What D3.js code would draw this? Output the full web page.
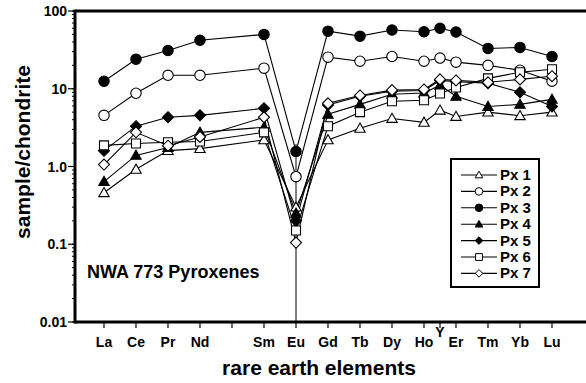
<!DOCTYPE html>
<html>
<head>
<meta charset="utf-8">
<script src="https://cdn.jsdelivr.net/npm/d3@7"></script>
<style>
  body { margin: 0; background: #fff; }
  svg { display: block; font-family: "Liberation Sans", Arial, sans-serif; font-weight: bold; }
  .line { fill: none; stroke: #000; stroke-width: 1.1; }
</style>
</head>
<body>
<script>
// axis categories (order along the x axis), Y sits between Ho and Er
var tickElements = ["La","Ce","Pr","Nd","Pm","Sm","Eu","Gd","Tb","Dy","Ho","Y","Er","Tm","Yb","Lu"];
var tickOrder    = [1, 2, 3, 4, 5, 6, 7, 8, 9, 10, 11, 11.5, 12, 13, 14, 15];
var tickShown    = ["La","Ce","Pr","Nd","","Sm","Eu","Gd","Tb","Dy","Ho","Y","Er","Tm","Yb","Lu"];

// elements that carry a value in each series
var plotted = ["La","Ce","Pr","Nd","Sm","Eu","Gd","Tb","Dy","Ho","Y","Er","Tm","Yb","Lu"];

var px1 = [0.46, 0.92, 1.6, 1.7, 2.2, 0.30, 2.2, 3.1, 4.15, 3.7, 5.3, 4.4, 5.0, 4.5, 5.0];
var px2 = [4.55, 8.75, 14.9, 14.9, 18.4, 0.74, 25.5, 22.6, 26, 22.6, 24.8, 22, 20, 17.3, 12.5];
var px3 = [12.5, 24, 31, 42, 50, 1.56, 55, 47.5, 57, 54, 60, 53.6, 33, 34, 26];
var px4 = [0.64, 1.39, 1.75, 2.75, 3.2, 0.25, 4.7, 6.3, 8.5, 8.8, 11.1, 8.0, 5.9, 6.3, 7.3];
var px5 = [1.6, 3.3, 4.3, 4.55, 5.6, 0.2, 6.2, 8.0, 9.3, 9.5, 12.8, 12.3, 11.8, 9.0, 5.9];
var px6 = [1.87, 1.98, 2.05, 2.1, 2.75, 0.15, 3.3, 5.0, 6.9, 7.1, 8.7, 10.4, 13.6, 16.3, 17.8];
var px7 = [1.06, 2.75, 1.85, 2.4, 4.3, 0.105, 6.5, 8.2, 9.6, 9.8, 13.2, 12.8, 12.1, 13.2, 14.5];

var seriesNames = ["Px 1","Px 2","Px 3","Px 4","Px 5","Px 6","Px 7"];
var seriesValues = [px1, px2, px3, px4, px5, px6, px7];

// vertical range bar at Eu
var euBar = {el: "Eu", lo: 0.01, hi: 1.95};

var yTickValues = [100, 10, 1, 0.1, 0.01];
var yTickLabels = ["100", "10", "1.0", "0.1", "0.01"];

var width = 586, height = 383;
var plotLeft = 75, plotRight = 586, plotTop = 11, plotBottom = 322;

var svg = d3.select("body").append("svg")
    .attr("width", width)
    .attr("height", height);

var xScale = d3.scaleLinear().domain([1, 15]).range([104, 552]);
var yScale = d3.scaleLog().domain([0.01, 100]).range([plotBottom, plotTop]);

function orderOf(el) { return tickOrder[tickElements.indexOf(el)]; }

// marker shapes: [kind, filled]
var shapes = [["tri", false], ["circ", false], ["circ", true], ["tri", true],
              ["dia", true], ["sq", false], ["dia", false]];

function markerPath(kind, s) {
  if (kind == "tri") {
    var h = s * 1.0;
    return "M0," + (-h) + "L" + (h * 1.0) + "," + (h * 0.75) + "L" + (-h * 1.0) + "," + (h * 0.75) + "Z";
  }
  if (kind == "dia") return "M0," + (-s) + "L" + s + ",0L0," + s + "L" + (-s) + ",0Z";
  if (kind == "sq") return "M" + (-s * 0.9) + "," + (-s * 0.9) + "h" + (s * 1.8) + "v" + (s * 1.8) + "h" + (-s * 1.8) + "Z";
  return d3.arc()({innerRadius: 0, outerRadius: s, startAngle: 0, endAngle: 2 * Math.PI});
}

// y axis: major + minor log ticks
var minorTicks = yScale.ticks(40);
svg.append("g").selectAll("line")
    .data(minorTicks)
  .enter().append("line")
    .attr("x1", plotLeft - 3).attr("x2", plotLeft)
    .attr("y1", function(d) { return yScale(d); })
    .attr("y2", function(d) { return yScale(d); })
    .attr("stroke", "#000").attr("stroke-width", 1);

svg.append("g").selectAll("line")
    .data(yTickValues)
  .enter().append("line")
    .attr("x1", plotLeft - 7).attr("x2", plotLeft)
    .attr("y1", function(d) { return yScale(d); })
    .attr("y2", function(d) { return yScale(d); })
    .attr("stroke", "#000").attr("stroke-width", 1.2);

svg.append("g").selectAll("text")
    .data(yTickValues)
  .enter().append("text")
    .attr("x", plotLeft - 8)
    .attr("y", function(d) { return yScale(d) + 5; })
    .attr("text-anchor", "end")
    .attr("font-size", 14)
    .text(function(d, i) { return yTickLabels[i]; });

// x axis ticks and labels
svg.append("g").selectAll("line")
    .data(tickOrder)
  .enter().append("line")
    .attr("x1", function(d) { return xScale(d); })
    .attr("x2", function(d) { return xScale(d); })
    .attr("y1", plotBottom).attr("y2", plotBottom + 6)
    .attr("stroke", "#000").attr("stroke-width", 1.2);

svg.append("g").selectAll("text")
    .data(tickOrder)
  .enter().append("text")
    .attr("x", function(d) { return xScale(d); })
    .attr("y", function(d, i) { return tickShown[i] == "Y" ? 337 : 347; })
    .attr("text-anchor", "middle")
    .attr("font-size", 14)
    .text(function(d, i) { return tickShown[i]; });

// frame
svg.append("line").attr("x1", plotLeft).attr("x2", plotRight).attr("y1", plotTop).attr("y2", plotTop)
    .attr("stroke", "#000").attr("stroke-width", 3);
svg.append("line").attr("x1", plotLeft).attr("x2", plotRight).attr("y1", plotBottom).attr("y2", plotBottom)
    .attr("stroke", "#000").attr("stroke-width", 3);
svg.append("line").attr("x1", plotLeft).attr("x2", plotLeft).attr("y1", plotTop - 1.5).attr("y2", plotBottom + 1.5)
    .attr("stroke", "#000").attr("stroke-width", 3);

// axis titles
svg.append("text")
    .attr("x", 319).attr("y", 375)
    .attr("text-anchor", "middle")
    .attr("font-size", 21)
    .text("rare earth elements");

svg.append("text")
    .attr("transform", "translate(30,152) rotate(-90)")
    .attr("text-anchor", "middle")
    .attr("font-size", 21)
    .text("sample/chondrite");

svg.append("text")
    .attr("x", 87).attr("y", 278)
    .attr("font-size", 18)
    .text("NWA 773 Pyroxenes");

// Eu range bar
svg.append("line")
    .attr("x1", xScale(orderOf(euBar.el))).attr("x2", xScale(orderOf(euBar.el)))
    .attr("y1", yScale(euBar.lo)).attr("y2", yScale(euBar.hi))
    .attr("stroke", "#000").attr("stroke-width", 1);

var line = d3.line()
    .x(function(d) { return xScale(orderOf(d.el)); })
    .y(function(d) { return yScale(d.v); });

var series = seriesValues.map(function(vals, i) {
  return vals.map(function(v, j) { return {el: plotted[j], v: v, s: i}; });
});

series.forEach(function(pts) {
  svg.append("path").datum(pts).attr("class", "line").attr("d", line);
});

series.forEach(function(pts, i) {
  var sh = shapes[i];
  var size = sh[0] == "sq" ? 5 : (sh[0] == "dia" ? 5.5 : 5.2);
  svg.append("g").selectAll("path")
      .data(pts)
    .enter().append("path")
      .attr("transform", function(d) { return "translate(" + xScale(orderOf(d.el)) + "," + yScale(d.v) + ")"; })
      .attr("d", markerPath(sh[0], size))
      .attr("fill", sh[1] ? "#000" : "#fff")
      .attr("stroke", "#000").attr("stroke-width", 1.1);
});

// legend
var legend = svg.append("g");
legend.append("rect")
    .attr("x", 451).attr("y", 159).attr("width", 88).attr("height", 128)
    .attr("fill", "#fff").attr("stroke", "#000").attr("stroke-width", 2);

seriesNames.forEach(function(name, i) {
  var y = 175 + i * 16.4;
  var sh = shapes[i];
  legend.append("line").attr("x1", 461).attr("x2", 497).attr("y1", y).attr("y2", y)
      .attr("stroke", "#000").attr("stroke-width", 1.1);
  legend.append("path")
      .attr("transform", "translate(479," + y + ")")
      .attr("d", markerPath(sh[0], sh[0] == "sq" ? 3.8 : 3.8))
      .attr("fill", sh[1] ? "#000" : "#fff")
      .attr("stroke", "#000").attr("stroke-width", 1);
  legend.append("text")
      .attr("x", 500).attr("y", y + 5)
      .attr("font-size", 15)
      .text(name);
});
</script>
</body>
</html>
